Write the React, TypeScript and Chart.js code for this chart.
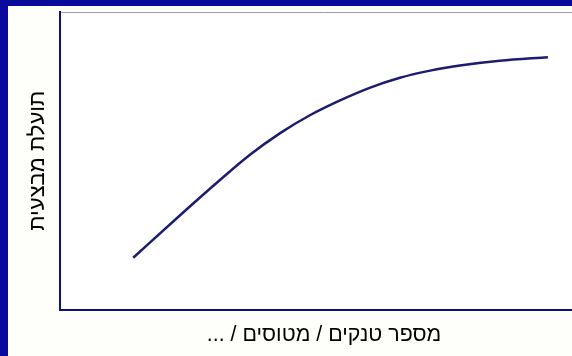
import React, { useEffect, useRef } from "react";
import { Chart, registerables } from "chart.js";

Chart.register(...registerables);

// Curve points (abstract units; visible plot spans x 0-100)
const xValues: number[] = [14.3, 23.4, 31.3, 37.1, 43.0, 48.8, 54.7, 60.6, 66.4, 72.3, 78.1, 85.9, 95.3];
const yValues: number[] = [17.4, 31.6, 43.6, 52.0, 59.3, 65.3, 70.3, 74.6, 77.9, 80.3, 82.0, 83.6, 84.8];

const xTitle = "מספר טנקים / מטוסים / ...";
const yTitle = "תועלת מבצעית";

const W = 572;
const H = 356;
const CANVAS_W = 588; // plot continues slightly past the visible right edge

const plotBg = {
  id: "plotBg",
  beforeDraw(chart: any) {
    const { ctx, chartArea } = chart;
    if (!chartArea) return;
    ctx.save();
    ctx.fillStyle = "#ffffff";
    ctx.fillRect(chartArea.left, chartArea.top, chartArea.right - chartArea.left, chartArea.bottom - chartArea.top);
    ctx.restore();
  },
};

export default function App() {
  const ref = useRef<HTMLCanvasElement | null>(null);

  useEffect(() => {
    if (!ref.current) return;
    const points = xValues.map((x, i) => ({ x, y: yValues[i] }));
    const family = "'Liberation Sans', Arial, sans-serif";
    const xMax = 100 * (CANVAS_W - 60) / (W - 60);
    const chart = new Chart(ref.current, {
      type: "line",
      data: {
        datasets: [
          {
            data: points,
            borderColor: "#1c1c70",
            borderWidth: 2.5,
            pointRadius: 0,
            cubicInterpolationMode: "monotone",
            fill: false,
          },
        ],
      },
      options: {
        responsive: false,
        animation: false,
        events: [],
        layout: { padding: { left: 0, top: 12, right: 0, bottom: 0 } },
        plugins: { legend: { display: false }, tooltip: { enabled: false } },
        scales: {
          x: {
            type: "linear",
            position: "bottom",
            min: 0,
            max: xMax,
            ticks: { display: false },
            grid: { display: false, drawTicks: false },
            border: { display: true, color: "#10107a", width: 2 },
            title: {
              display: true,
              text: xTitle,
              color: "#000000",
              font: { family, size: 21.4, weight: "normal" },
              padding: { top: 13.2, bottom: 7.6 },
            },
          },
          x2: {
            type: "linear",
            position: "top",
            min: 0,
            max: xMax,
            ticks: { display: false },
            grid: { display: false, drawTicks: false },
            border: { display: true, color: "#9a9ab4", width: 1 },
          },
          y: {
            type: "linear",
            position: "left",
            min: 0,
            max: 100,
            ticks: { display: false },
            grid: { display: false, drawTicks: false },
            border: { display: true, color: "#10107a", width: 2 },
            title: {
              display: true,
              text: yTitle,
              color: "#000000",
              font: { family, size: 22, weight: "normal" },
              padding: { top: 24.6, bottom: 9.0 },
            },
          },
        },
      },
      plugins: [plotBg],
    });
    return () => chart.destroy();
  }, []);

  return (
    <div
      style={{
        position: "fixed",
        left: 0,
        top: 0,
        width: W,
        height: H,
        overflow: "hidden",
        background: "#fefefa",
      }}
    >
      <canvas ref={ref} dir="rtl" width={CANVAS_W} height={H} style={{ position: "absolute", left: 0, top: 0 }} />
      <div
        style={{
          position: "absolute",
          left: 0,
          top: 0,
          width: W,
          height: H,
          pointerEvents: "none",
          boxShadow: "inset 8px 6px 0 0 #0a0a9c, inset 5px 4px 0 0 #2626c4, inset 2px 2px 0 0 #0a0a9c",
        }}
      />
    </div>
  );
}
